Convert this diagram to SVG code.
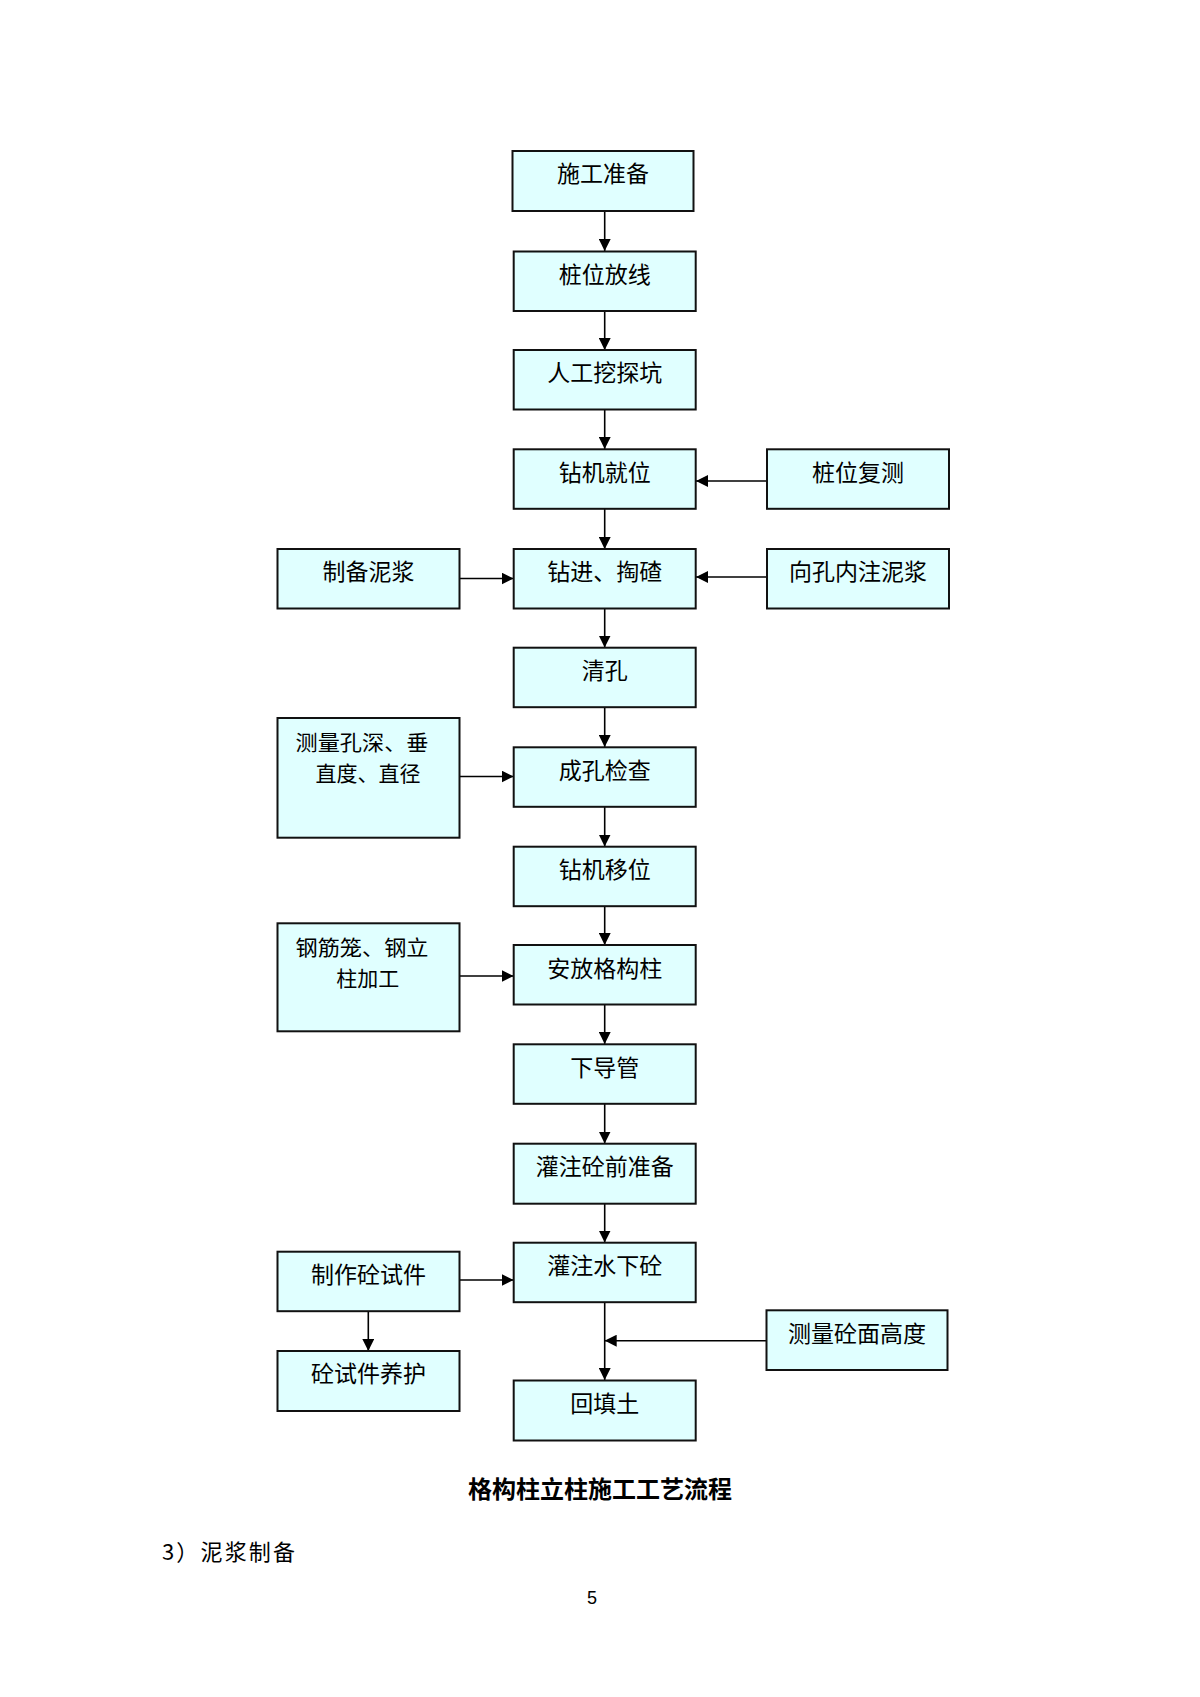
<svg xmlns="http://www.w3.org/2000/svg" width="1200" height="1697" viewBox="0 0 1200 1697">
<defs>
<style>
.box{fill:#E0FFFF;stroke:#111;stroke-width:2}
.t{font-family:"Noto Sans CJK SC","Noto Sans",sans-serif;font-size:23px;fill:#000;text-anchor:middle}
.t2{font-family:"Noto Sans CJK SC","Noto Sans",sans-serif;font-size:21px;fill:#000;text-anchor:middle}
.c{stroke:#000;stroke-width:1.6;fill:none}
</style>
<marker id="ah" viewBox="0 0 12 12" refX="12" refY="6" markerWidth="12" markerHeight="12" markerUnits="userSpaceOnUse" orient="auto">
<path d="M0,0 L12,6 L0,12 Z" fill="#000"/>
</marker>
</defs>
<rect width="1200" height="1697" fill="#fff"/>
<g id="connectors">
<line class="c" x1="604.7" y1="211" x2="604.7" y2="251" marker-end="url(#ah)"/>
<line class="c" x1="604.7" y1="311" x2="604.7" y2="350" marker-end="url(#ah)"/>
<line class="c" x1="604.7" y1="409" x2="604.7" y2="449" marker-end="url(#ah)"/>
<line class="c" x1="604.7" y1="509" x2="604.7" y2="549" marker-end="url(#ah)"/>
<line class="c" x1="604.7" y1="609" x2="604.7" y2="647.5" marker-end="url(#ah)"/>
<line class="c" x1="604.7" y1="707" x2="604.7" y2="747" marker-end="url(#ah)"/>
<line class="c" x1="604.7" y1="807" x2="604.7" y2="846.5" marker-end="url(#ah)"/>
<line class="c" x1="604.7" y1="906" x2="604.7" y2="945" marker-end="url(#ah)"/>
<line class="c" x1="604.7" y1="1005" x2="604.7" y2="1044" marker-end="url(#ah)"/>
<line class="c" x1="604.7" y1="1104" x2="604.7" y2="1143.5" marker-end="url(#ah)"/>
<line class="c" x1="604.7" y1="1204" x2="604.7" y2="1242.5" marker-end="url(#ah)"/>
<line class="c" x1="604.7" y1="1302" x2="604.7" y2="1380" marker-end="url(#ah)"/>
<line class="c" x1="767" y1="481" x2="696" y2="481" marker-end="url(#ah)"/>
<line class="c" x1="767" y1="577" x2="696" y2="577" marker-end="url(#ah)"/>
<line class="c" x1="460" y1="578.5" x2="513.5" y2="578.5" marker-end="url(#ah)"/>
<line class="c" x1="460" y1="776.5" x2="513.5" y2="776.5" marker-end="url(#ah)"/>
<line class="c" x1="460" y1="976" x2="513.5" y2="976" marker-end="url(#ah)"/>
<line class="c" x1="460" y1="1280" x2="513.5" y2="1280" marker-end="url(#ah)"/>
<line class="c" x1="368.3" y1="1311.5" x2="368.3" y2="1351" marker-end="url(#ah)"/>
<line class="c" x1="766.5" y1="1340.7" x2="604.7" y2="1340.7" marker-end="url(#ah)"/>
</g>
<g id="n1"><rect class="box" x="512.5" y="151" width="181" height="60"/><text class="t" x="603" y="182">施工准备</text></g>
<g id="n2"><rect class="box" x="513.7" y="251.5" width="182" height="59.5"/><text class="t" x="604.7" y="282.5">桩位放线</text></g>
<g id="n3"><rect class="box" x="513.7" y="350" width="182" height="59.5"/><text class="t" x="604.7" y="381">人工挖探坑</text></g>
<g id="n4"><rect class="box" x="513.7" y="449.3" width="182" height="59.5"/><text class="t" x="604.7" y="480.5">钻机就位</text></g>
<g id="n5"><rect class="box" x="767" y="449.3" width="182" height="59.5"/><text class="t" x="858" y="480.5">桩位复测</text></g>
<g id="n6"><rect class="box" x="513.7" y="549" width="182" height="59.5"/><text class="t" x="604.7" y="580">钻进、掏碴</text></g>
<g id="n7"><rect class="box" x="277.5" y="549" width="182" height="59.5"/><text class="t" x="368.5" y="580">制备泥浆</text></g>
<g id="n8"><rect class="box" x="767" y="549" width="182" height="59.5"/><text class="t" x="858" y="580">向孔内注泥浆</text></g>
<g id="n9"><rect class="box" x="513.7" y="647.7" width="182" height="59.5"/><text class="t" x="604.7" y="679">清孔</text></g>
<g id="n10"><rect class="box" x="513.7" y="747.3" width="182" height="59.5"/><text class="t" x="604.7" y="778.5">成孔检查</text></g>
<g id="n11"><rect class="box" x="277.5" y="718" width="182" height="119.7"/><text class="t2" x="362" y="750" textLength="133" lengthAdjust="spacingAndGlyphs">测量孔深、垂</text><text class="t2" x="368" y="781">直度、直径</text></g>
<g id="n12"><rect class="box" x="513.7" y="846.7" width="182" height="59.5"/><text class="t" x="604.7" y="878">钻机移位</text></g>
<g id="n13"><rect class="box" x="513.7" y="945" width="182" height="59.5"/><text class="t" x="604.7" y="976.5">安放格构柱</text></g>
<g id="n14"><rect class="box" x="277.5" y="923.3" width="182" height="108"/><text class="t2" x="362" y="954.5" textLength="133" lengthAdjust="spacingAndGlyphs">钢筋笼、钢立</text><text class="t2" x="367.7" y="985.5">柱加工</text></g>
<g id="n15"><rect class="box" x="513.7" y="1044.3" width="182" height="59.5"/><text class="t" x="604.7" y="1075.5">下导管</text></g>
<g id="n16"><rect class="box" x="513.7" y="1143.7" width="182" height="60"/><text class="t" x="604.7" y="1175">灌注砼前准备</text></g>
<g id="n17"><rect class="box" x="513.7" y="1242.7" width="182" height="59.5"/><text class="t" x="604.7" y="1274">灌注水下砼</text></g>
<g id="n18"><rect class="box" x="277.5" y="1251.7" width="182" height="59.5"/><text class="t" x="368.5" y="1283">制作砼试件</text></g>
<g id="n19"><rect class="box" x="277.5" y="1351" width="182" height="60"/><text class="t" x="368.5" y="1382">砼试件养护</text></g>
<g id="n20"><rect class="box" x="766.5" y="1310.3" width="181" height="59.7"/><text class="t" x="857" y="1341.5">测量砼面高度</text></g>
<g id="n21"><rect class="box" x="513.7" y="1380.5" width="182" height="60"/><text class="t" x="604.7" y="1412">回填土</text></g>
<text x="600" y="1498" font-family="'Noto Sans CJK SC',sans-serif" font-size="24" font-weight="bold" text-anchor="middle">格构柱立柱施工工艺流程</text>
<text x="162" y="1560" font-family="'Noto Sans CJK SC',sans-serif" font-size="22" textLength="133" lengthAdjust="spacing">3）泥浆制备</text>
<text x="592" y="1604" font-family="'Liberation Sans',sans-serif" font-size="18" text-anchor="middle">5</text>
</svg>
